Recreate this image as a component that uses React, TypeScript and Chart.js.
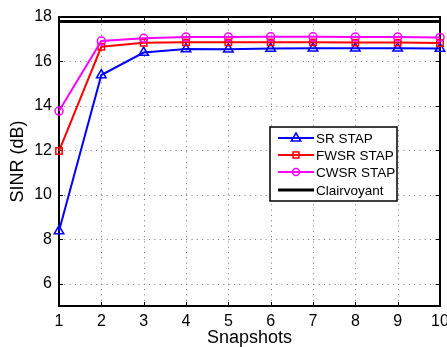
import React, { useEffect, useRef } from "react";
import { Chart, registerables } from "chart.js";

Chart.register(...registerables);

const snapshots = [1, 2, 3, 4, 5, 6, 7, 8, 9, 10];
const srStap = [8.37, 15.39, 16.4, 16.56, 16.55, 16.58, 16.59, 16.59, 16.59, 16.58];
const fwsrStap = [11.97, 16.66, 16.84, 16.86, 16.86, 16.86, 16.86, 16.85, 16.85, 16.83];
const cwsrStap = [13.77, 16.92, 17.04, 17.1, 17.1, 17.11, 17.11, 17.1, 17.1, 17.08];
const clairvoyant = [17.8, 17.8, 17.8, 17.8, 17.8, 17.8, 17.8, 17.8, 17.8, 17.8];
const yTicks = [6, 8, 10, 12, 14, 16, 18];
const xTicks = [1, 2, 3, 4, 5, 6, 7, 8, 9, 10];
const seriesNames = ["SR STAP", "FWSR STAP", "CWSR STAP", "Clairvoyant"];
const seriesColors = ["#0000ff", "#ff0000", "#ff00ff", "#000000"];
const seriesMarkers = ["triangle", "rect", "circle", false];

const FONT = "'Liberation Sans', Arial, sans-serif";

function drawMarker(ctx: CanvasRenderingContext2D, kind: any, x: number, y: number, color: string) {
  if (!kind) return;
  ctx.save();
  ctx.strokeStyle = color;
  ctx.lineWidth = 1.5;
  ctx.beginPath();
  if (kind === "triangle") {
    const r = 5;
    ctx.moveTo(x, y - r);
    ctx.lineTo(x + r * 0.95, y + r * 0.6);
    ctx.lineTo(x - r * 0.95, y + r * 0.6);
    ctx.closePath();
  } else if (kind === "rect") {
    ctx.rect(x - 3, y - 3, 6, 6);
  } else if (kind === "circle") {
    ctx.arc(x, y, 3.5, 0, Math.PI * 2);
  }
  ctx.stroke();
  ctx.restore();
}

const framePlugin = {
  id: "frame",
  beforeDatasetsDraw(chart: any) {
    const { ctx, chartArea, scales } = chart;
    const { left, right, top, bottom } = chartArea;
    ctx.save();
    ctx.strokeStyle = "#777";
    ctx.lineWidth = 1;
    ctx.setLineDash([1, 4.3]);
    ctx.beginPath();
    xTicks.forEach((v) => {
      const px = Math.round(scales.x.getPixelForValue(v)) + 0.5;
      ctx.moveTo(px, bottom);
      ctx.lineTo(px, top);
    });
    yTicks.forEach((v) => {
      const py = Math.round(scales.y.getPixelForValue(v)) + 0.5;
      ctx.moveTo(left, py);
      ctx.lineTo(right, py);
    });
    ctx.stroke();
    ctx.setLineDash([]);
    ctx.strokeStyle = "#000";
    ctx.lineWidth = 1;
    const tl = 4;
    ctx.beginPath();
    xTicks.forEach((v) => {
      const px = Math.round(scales.x.getPixelForValue(v)) + 0.5;
      ctx.moveTo(px, bottom);
      ctx.lineTo(px, bottom - tl);
      ctx.moveTo(px, top);
      ctx.lineTo(px, top + tl);
    });
    yTicks.forEach((v) => {
      const py = Math.round(scales.y.getPixelForValue(v)) + 0.5;
      ctx.moveTo(left, py);
      ctx.lineTo(left + tl, py);
      ctx.moveTo(right, py);
      ctx.lineTo(right - tl, py);
    });
    ctx.stroke();
    ctx.lineWidth = 2;
    ctx.strokeRect(left, top, right - left, bottom - top);
    ctx.restore();
  },
  afterDatasetsDraw(chart: any) {
    const { ctx } = chart;
    const bx = 270, by = 127, bw = 127, bh = 74;
    ctx.save();
    ctx.fillStyle = "#fff";
    ctx.fillRect(bx, by, bw, bh);
    const rows = [138, 155, 172, 190];
    ctx.font = `13.5px ${FONT}`;
    ctx.textBaseline = "middle";
    ctx.textAlign = "left";
    seriesNames.forEach((name, i) => {
      const y = rows[i];
      ctx.strokeStyle = seriesColors[i];
      ctx.lineWidth = i === 3 ? 3 : 2;
      ctx.beginPath();
      ctx.moveTo(278, y);
      ctx.lineTo(314, y);
      ctx.stroke();
      drawMarker(ctx, seriesMarkers[i], 296, y, seriesColors[i]);
      ctx.fillStyle = "#000";
      ctx.fillText(name, 316, y + 1);
    });
    ctx.strokeStyle = "#000";
    ctx.lineWidth = 1.5;
    ctx.strokeRect(bx, by, bw, bh);
    ctx.restore();
  },
};

export default function App() {
  const ref = useRef<HTMLCanvasElement | null>(null);
  useEffect(() => {
    if (!ref.current) return;
    const mk = (vals: number[]) => snapshots.map((x, i) => ({ x, y: vals[i] }));
    const chart = new Chart(ref.current, {
      type: "line",
      data: {
        datasets: [
          {
            label: seriesNames[0],
            data: mk(srStap),
            borderColor: seriesColors[0],
            backgroundColor: "rgba(0,0,0,0)",
            borderWidth: 2,
            pointStyle: "triangle",
            pointRadius: 5.5,
            pointBorderWidth: 1.5,
            clip: false,
            order: 4,
          },
          {
            label: seriesNames[1],
            data: mk(fwsrStap),
            borderColor: seriesColors[1],
            backgroundColor: "rgba(0,0,0,0)",
            borderWidth: 2,
            pointStyle: "rect",
            pointRadius: 4.5,
            pointBorderWidth: 1.5,
            clip: false,
            order: 3,
          },
          {
            label: seriesNames[2],
            data: mk(cwsrStap),
            borderColor: seriesColors[2],
            backgroundColor: "rgba(0,0,0,0)",
            borderWidth: 2,
            pointStyle: "circle",
            pointRadius: 4,
            pointBorderWidth: 1.5,
            clip: false,
            order: 2,
          },
          {
            label: seriesNames[3],
            data: mk(clairvoyant),
            borderColor: seriesColors[3],
            backgroundColor: "rgba(0,0,0,0)",
            borderWidth: 3,
            pointRadius: 0,
            clip: false,
            order: 1,
          },
        ],
      },
      options: {
        responsive: false,
        animation: false,
        devicePixelRatio: 1,
        layout: { padding: { top: 17, right: 7, left: 0, bottom: 0 } },
        plugins: { legend: { display: false }, tooltip: { enabled: false } },
        scales: {
          x: {
            type: "linear",
            min: 1,
            max: 10,
            afterBuildTicks: (s: any) => {
              s.ticks = xTicks.map((v) => ({ value: v }));
            },
            afterFit: (s: any) => {
              s.height = 41;
              s.paddingLeft = 0;
              s.paddingRight = 0;
            },
            ticks: {
              color: "#000",
              font: { family: FONT, size: 16 },
              padding: 6,
              maxRotation: 0,
              autoSkip: false,
            },
            grid: { display: false, drawTicks: false },
            border: { display: false },
            title: {
              display: true,
              text: "Snapshots",
              color: "#000",
              font: { family: FONT, size: 18 },
              padding: { top: 0, bottom: -2 },
            },
          },
          y: {
            type: "linear",
            min: 5,
            max: 18,
            afterBuildTicks: (s: any) => {
              s.ticks = yTicks.map((v) => ({ value: v }));
            },
            afterFit: (s: any) => {
              s.width = 59;
              s.paddingTop = 0;
              s.paddingBottom = 0;
            },
            ticks: {
              color: "#000",
              font: { family: FONT, size: 16 },
              padding: 7,
              autoSkip: false,
            },
            grid: { display: false, drawTicks: false },
            border: { display: false },
            title: {
              display: true,
              text: "SINR (dB)",
              color: "#000",
              font: { family: FONT, size: 18 },
              padding: { top: 7, bottom: 0 },
            },
          },
        },
      },
      plugins: [framePlugin],
    } as any);
    return () => chart.destroy();
  }, []);
  return (
    <div style={{ position: "fixed", left: 0, top: 0, width: 447, height: 347, background: "#fff" }}>
      <canvas ref={ref} width={447} height={347} />
    </div>
  );
}
